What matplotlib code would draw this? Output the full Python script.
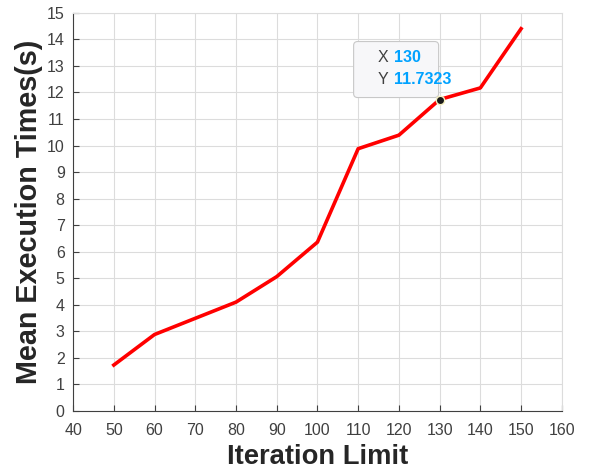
import matplotlib
matplotlib.use("Agg")
import matplotlib.pyplot as plt
from matplotlib.transforms import offset_copy, IdentityTransform
from matplotlib.patches import FancyBboxPatch

# iteration limit vs mean execution time (s)
iter_limit = [50, 60, 70, 80, 90, 100, 110, 120, 130, 140, 150]
mean_time = [1.73, 2.88, 3.49, 4.10, 5.06, 6.36, 9.88, 10.39, 11.7323, 12.17, 14.40]
tip_idx = 8

plt.rcParams["font.family"] = ["Liberation Sans", "DejaVu Sans"]

fig = plt.figure(figsize=(6.14, 4.74), dpi=100)
ax = fig.add_axes([0.119, 0.133, 0.796, 0.840])

ax.plot(iter_limit, mean_time, color="#ff0000", lw=2.6, zorder=3)
ax.set_xlim(40, 160)
ax.set_ylim(0, 15)
ax.set_xticks(range(40, 161, 10))
ax.set_yticks(range(0, 16))
ax.grid(True, color="#dcdcdc", lw=0.8)
ax.set_axisbelow(True)
ax.tick_params(direction="in", colors="#404040", labelsize=11.5, length=4, top=False, right=False)
ax.tick_params(axis="x", pad=9)
ax.tick_params(axis="y", pad=6)
for s in ["left", "bottom"]:
    ax.spines[s].set_color("#404040")
for s in ["top", "right"]:
    ax.spines[s].set_color("#dcdcdc")
ax.set_xlabel("Iteration Limit", fontsize=19.7, fontweight="bold", color="#262626", labelpad=4)
ax.set_ylabel("Mean Execution Times(s)", fontsize=20.7, fontweight="bold", color="#262626", labelpad=3)

# data tip at x=130
tx, ty = iter_limit[tip_idx], mean_time[tip_idx]
ax.plot(tx, ty, "o", ms=6, mfc="#1a1a1a", mec="#f5f0c0", mew=1, zorder=8)

def at(dx, dy):
    return offset_copy(ax.transData, fig=fig, x=dx, y=dy, units="dots")

px, py = ax.transData.transform((tx, ty))
box = FancyBboxPatch((px - 86, py + 2), 85, 56, boxstyle="round,pad=0,rounding_size=4",
                     transform=IdentityTransform(), fc="#f7f7f9", ec="#c8c8c8", lw=0.8,
                     zorder=6, clip_on=False)
ax.add_patch(box)

for label, val, dy in [("X", "%g" % tx, 42), ("Y", "%.4f" % ty, 20.5)]:
    ax.text(tx, ty, label, transform=at(-62, dy), fontsize=11.5, color="#404040",
            ha="left", va="center", zorder=7)
    ax.text(tx, ty, val, transform=at(-46, dy), fontsize=11.5, color="#00a2ff",
            fontweight="bold", ha="left", va="center", zorder=7)

fig.savefig("out.png", dpi=100)
